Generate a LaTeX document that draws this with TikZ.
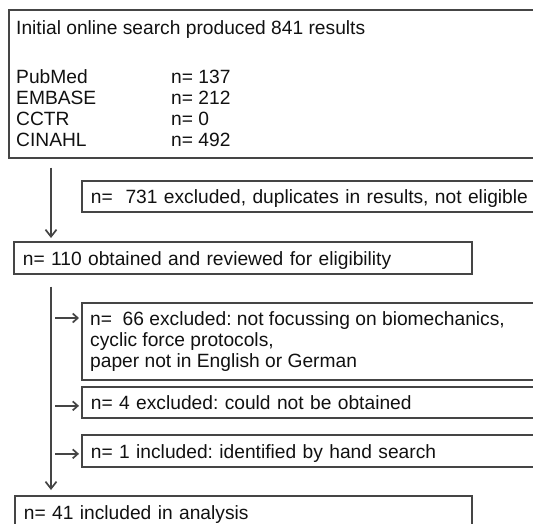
\documentclass[tikz,border=0pt]{standalone}
\usepackage{fontspec}
\setmainfont{Liberation Sans}
\usetikzlibrary{arrows.meta}
\frenchspacing
\newcommand\diagfont{\fontsize{19.2}{21.3}\selectfont\frenchspacing}
\definecolor{linecol}{HTML}{454545}
\definecolor{textcol}{HTML}{111111}
\begin{document}
\begin{tikzpicture}[x=1pt,y=-1pt,
  lc/.style={draw=linecol, line width=1.7pt},
  bx/.style={lc, rectangle, anchor=north west, inner xsep=9pt, inner ysep=0pt,
    minimum height=32pt, text height=15pt, text depth=0pt, align=left,
    font=\diagfont, text=textcol},
  txt/.style={inner sep=0pt, font=\diagfont, text=textcol, anchor=base west},
  bigarr/.style={lc, -{Straight Barb[length=7pt,width=11pt]}},
  smallarr/.style={lc, -{Straight Barb[length=5pt,width=9pt]}}]
\useasboundingbox (0,0) rectangle (533,523);

% boxes
\node[bx, text width=519pt, minimum height=148pt] (b1) at (8,9) {};
\node[txt] (t1) at ([xshift=8pt,yshift=-25pt]b1.north west) {Initial online search produced 841 results};
\node[txt] (t2) at ([xshift=8pt,yshift=-74pt]b1.north west)
  {\begin{tabular}[t]{@{}p{155pt}@{}l@{}}PubMed & n= 137\\ EMBASE & n= 212\\ CCTR & n= 0\\ CINAHL & n= 492\end{tabular}};

\node[bx, text width=446pt, minimum height=31pt] (b731) at (81,180) {n=\ \ 731 excluded, duplicates in results, not eligible};
\node[bx, text width=440pt] (b110) at (13,241) {n= 110 obtained and reviewed for eligibility};

\node[bx, text width=446pt, minimum height=77pt] (b66) at (81,302) {};
\node[txt] (t66) at ([xshift=9pt,yshift=-23pt]b66.north west)
  {\begin{tabular}[t]{@{}l@{}}n=\ \ 66 excluded: not focussing on biomechanics,\\ cyclic force protocols,\\ paper not in English or German\end{tabular}};

\node[bx, text width=446pt, minimum height=31pt] (b4) at (81,386) {n= 4 excluded: could not be obtained};
\node[bx, text width=446pt] (b1i) at (81,434) {n= 1 included: identified by hand search};
\node[bx, text width=439pt] (b41) at (14,495) {n= 41 included in analysis};

% connectors
\coordinate (sp) at (51,0);
\draw[bigarr] ([yshift=-9pt]sp |- b1.south) -- ([yshift=3pt]sp |- b110.north);
\draw[bigarr] ([yshift=-12pt]sp |- b110.south) -- ([yshift=5pt]sp |- b41.north);
\draw[smallarr] ([xshift=4pt,yshift=-16pt]sp |- b66.north) -- ([xshift=-2pt,yshift=-16pt]b66.north west);
\draw[smallarr] ([xshift=4pt,yshift=-3.5pt]sp |- b4.west) -- ([xshift=-2pt,yshift=-3.5pt]b4.west);
\draw[smallarr] ([xshift=4pt,yshift=-3pt]sp |- b1i.west) -- ([xshift=-2pt,yshift=-3pt]b1i.west);
\end{tikzpicture}
\end{document}
